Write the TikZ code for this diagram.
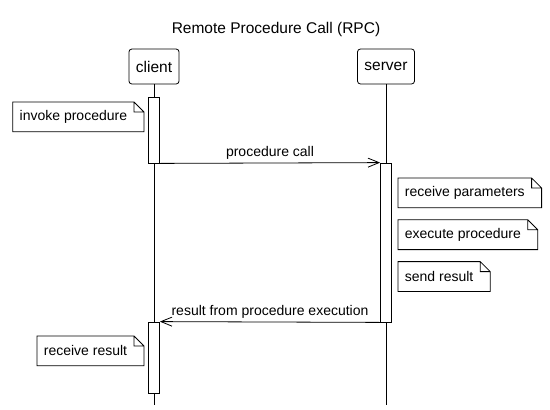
\documentclass[tikz,border=0pt]{standalone}
\usepackage{fontspec}
\setmainfont{Liberation Sans}
\usetikzlibrary{positioning,arrows.meta}
\tikzset{
actor/.style = {draw, rounded corners=3pt, minimum height=35pt, inner xsep=7pt, font=\fontsize{15.5}{18}\selectfont},
activation/.style = {draw, fill=white, minimum width=11pt, inner sep=0pt},
note/.style = {minimum height=29pt, inner ysep=0pt, inner xsep=6.5pt, font=\fontsize{14}{16}\selectfont,
  append after command={\pgfextra{\draw (\tikzlastnode.south west) -- (\tikzlastnode.north west) -- (\tikzlastnode.north east) -- ([xshift=10pt,yshift=-10pt]\tikzlastnode.north east) -- ([xshift=10pt]\tikzlastnode.south east) -- cycle
    (\tikzlastnode.north east) -- ([yshift=-10pt]\tikzlastnode.north east) -- ([xshift=10pt,yshift=-10pt]\tikzlastnode.north east);}}},
msg/.style = {-{Straight Barb[length=11pt,width=9pt]}},
msglabel/.style = {above, inner sep=3pt, font=\fontsize{14}{16}\selectfont}
}
\begin{document}
\begin{tikzpicture}[x=1pt, y=-1pt, line width=0.8pt]
\useasboundingbox (0,0) rectangle (550,410);
\node [font=\fontsize{15.5}{18}\selectfont] (title) at (276,29) {Remote Procedure Call (RPC)};
\node [actor] (client) at (154,66.5) {client};
\node [actor] (server) at (386,66.5) {server};
\coordinate (clientend) at (154,405);
\coordinate (serverend) at (386,405);
\draw (client) -- (clientend);
\draw (server) -- (serverend);
% activations
\node [activation, minimum height=66pt] (call) at (154,130) {};
\node [activation, minimum height=159pt] (exec) at (386,242.5) {};
\node [activation, minimum height=71pt] (reply) at (154,357.5) {};
% messages
\draw [msg] (call.south east) -- (exec.north west) node [msglabel, midway] {procedure call};
\draw [msg] (exec.south west) -- (reply.north east) node [msglabel, midway] {result from procedure execution};
% notes
\node [note, anchor=north east] (invoke) at (134,102) {invoke procedure};
\node [note, anchor=north west] (params) at (398,178) {receive parameters};
\node [note, below=12pt of params.south west, anchor=north west] (run) {execute procedure};
\node [note, below=12pt of run.south west, anchor=north west] (send) {send result};
\node [note, anchor=north east] (receive) at (134,336) {receive result};
\end{tikzpicture}
\end{document}
